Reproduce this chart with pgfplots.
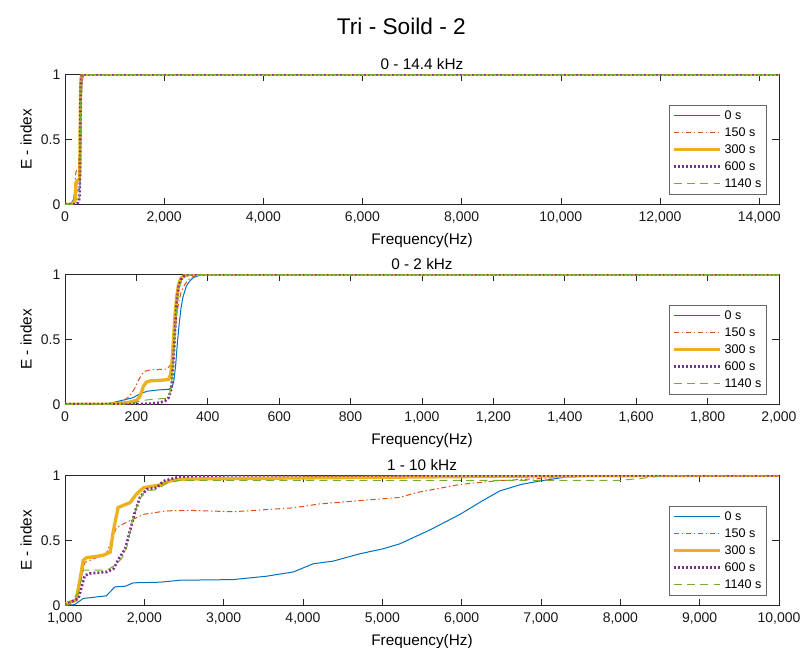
\documentclass[border=0pt]{standalone}
\usepackage{pgfplots}
\pgfplotsset{compat=1.18}
\usepackage{pgfplotstable}
\usepackage{fontspec}
\setmainfont{Liberation Sans}

\definecolor{mblue}{HTML}{0072BD}
\definecolor{morange}{HTML}{D95319}
\definecolor{myellow}{HTML}{EDB120}
\definecolor{mpurple}{HTML}{7E2F8E}
\definecolor{mgreen}{HTML}{77AC30}
\definecolor{mgray}{HTML}{262626}

% ---- 0 - 14.4 kHz / 0 - 2 kHz (same curves) ----
\pgfplotstableread{
f v
0 0
100 0
130 0.01
160 0.03
190 0.05
210 0.08
230 0.10
260 0.11
290 0.115
300 0.13
305 0.18
310 0.30
315 0.48
320 0.62
325 0.74
330 0.82
340 0.91
350 0.95
360 0.975
375 0.99
400 1
14400 1
}\lowA
\pgfplotstableread{
f v
0 0
130 0
160 0.02
180 0.06
195 0.12
205 0.18
215 0.23
225 0.255
240 0.265
285 0.27
295 0.30
300 0.38
305 0.50
310 0.62
318 0.78
325 0.86
335 0.92
350 0.97
365 0.99
380 1
14400 1
}\lowB
\pgfplotstableread{
f v
0 0
120 0
150 0.005
180 0.015
200 0.03
210 0.06
215 0.10
220 0.14
228 0.17
240 0.18
270 0.185
290 0.19
296 0.23
300 0.33
304 0.50
308 0.68
313 0.83
318 0.92
325 0.97
335 0.99
350 1
14400 1
}\lowC
\pgfplotstableread{
f v
0 0
200 0
240 0.005
265 0.012
280 0.025
290 0.05
298 0.12
303 0.30
308 0.55
313 0.78
318 0.90
325 0.96
335 0.99
350 1
14400 1
}\lowD
\pgfplotstableread{
f v
0 0
150 0
190 0.01
220 0.03
250 0.04
285 0.045
293 0.07
300 0.20
305 0.40
310 0.62
315 0.80
320 0.90
328 0.96
340 0.99
355 1
14400 1
}\lowE

% ---- 1 - 10 kHz ----
\pgfplotstableread{
f v
1000 0
1120 0.005
1230 0.053
1520 0.073
1630 0.142
1760 0.147
1860 0.173
2200 0.178
2450 0.193
3120 0.198
3540 0.224
3880 0.257
4130 0.32
4380 0.34
4720 0.397
5010 0.435
5220 0.473
5600 0.58
5980 0.70
6250 0.80
6480 0.88
6750 0.93
6990 0.957
7320 0.987
7800 0.995
8500 1
10000 1
}\hiA
\pgfplotstableread{
f v
1000 0
1060 0.005
1150 0.06
1200 0.20
1250 0.33
1520 0.397
1650 0.60
1780 0.64
1990 0.70
2280 0.727
2600 0.73
3120 0.72
3880 0.75
4210 0.78
4800 0.81
5220 0.83
5430 0.867
5980 0.93
6480 0.96
6990 0.975
7320 0.99
8000 1
10000 1
}\hiB
\pgfplotstableread{
f v
1000 0
1020 0.015
1140 0.04
1190 0.20
1230 0.346
1270 0.366
1480 0.384
1570 0.41
1610 0.575
1670 0.753
1820 0.79
1900 0.855
1990 0.905
2200 0.926
2320 0.956
2450 0.97
3000 0.975
5000 0.985
7000 0.995
9000 1
10000 1
}\hiC
\pgfplotstableread{
f v
1000 0
1020 0.01
1170 0.053
1250 0.23
1315 0.245
1525 0.257
1610 0.28
1690 0.37
1760 0.435
1820 0.575
1880 0.715
1945 0.83
2030 0.893
2160 0.905
2240 0.956
2450 0.99
3000 1
10000 1
}\hiD
\pgfplotstableread{
f v
1000 0
1050 0.01
1170 0.10
1230 0.27
1525 0.27
1610 0.30
1715 0.36
1780 0.45
1840 0.625
1925 0.80
2010 0.88
2160 0.89
2280 0.94
2450 0.962
8000 0.962
8240 0.975
8600 1
10000 1
}\hiE

\pgfplotsset{
  panel/.style={
    scale only axis, width=535.5pt, height=97.5pt,
    ymin=0, ymax=1, ytick={0,0.5,1},
    tick align=inside, major tick length=5pt,
    axis line style={mgray, line width=0.5pt},
    tick style={mgray, line width=0.5pt},
    every tick label/.append style={font=\fontsize{10.5}{12}\selectfont, text=black!90},
    xticklabel style={yshift=-2pt},
    /pgf/number format/assume math mode=true,
    /pgf/number format/1000 sep={,},
    scaled x ticks=false,
    xlabel={Frequency(Hz)}, ylabel={E - index},
    xlabel style={yshift=-1pt},
    label style={font=\fontsize{11.5}{13}\selectfont},
    title style={font=\fontsize{11.5}{13}\selectfont, yshift=-6pt},
    legend cell align=left,
    legend image code/.code={\draw[##1] (0pt,0.4pt) -- (35pt,0.4pt);},
    legend style={at={(1,0)}, anchor=south east, xshift=-9pt, yshift=7pt,
      draw=mgray!70, line width=0.5pt, fill=white,
      font=\fontsize{9.4}{11}\selectfont, row sep=0.6pt, inner sep=2pt},
  },
  s0/.style={color=mblue, draw=mblue, line width=0.75pt},
  s150/.style={color=morange, draw=morange, line width=0.75pt, dash pattern=on 4pt off 2pt on 1pt off 2pt},
  s300/.style={color=myellow, draw=myellow, line width=2.5pt},
  s600/.style={color=mpurple, draw=mpurple, line width=2pt, dash pattern=on 1.5pt off 1.5pt},
  s1140/.style={color=mgreen, draw=mgreen, line width=0.75pt, dash pattern=on 6pt off 4pt},
}

\begin{document}
\begin{tikzpicture}
\path[use as bounding box] (0,0) rectangle (601.5pt,486pt);

\node[font=\fontsize{17}{20}\selectfont] at (301pt,466.5pt) {Tri - Soild - 2};

\begin{axis}[panel, at={(48.75pt,332.8pt)}, anchor=south west,
  xmin=0, xmax=14400, xtick={0,2000,...,14000},
  title={0 - 14.4 kHz}]
\addplot[s0] table {\lowA}; \addlegendentry{0 s}
\addplot[s150] table {\lowB}; \addlegendentry{150 s}
\addplot[s300] table {\lowC}; \addlegendentry{300 s}
\addplot[s600] table {\lowD}; \addlegendentry{600 s}
\addplot[s1140] table {\lowE}; \addlegendentry{1140 s}
\end{axis}

\begin{axis}[panel, at={(48.75pt,182.8pt)}, anchor=south west,
  xmin=0, xmax=2000, xtick={0,200,...,2000},
  title={0 - 2 kHz}]
\addplot[s0] table {\lowA}; \addlegendentry{0 s}
\addplot[s150] table {\lowB}; \addlegendentry{150 s}
\addplot[s300] table {\lowC}; \addlegendentry{300 s}
\addplot[s600] table {\lowD}; \addlegendentry{600 s}
\addplot[s1140] table {\lowE}; \addlegendentry{1140 s}
\end{axis}

\begin{axis}[panel, at={(48.75pt,32pt)}, anchor=south west,
  xmin=1000, xmax=10000, xtick={1000,2000,...,10000},
  title={1 - 10 kHz}]
\addplot[s0] table {\hiA}; \addlegendentry{0 s}
\addplot[s150] table {\hiB}; \addlegendentry{150 s}
\addplot[s300] table {\hiC}; \addlegendentry{300 s}
\addplot[s600] table {\hiD}; \addlegendentry{600 s}
\addplot[s1140] table {\hiE}; \addlegendentry{1140 s}
\end{axis}
\end{tikzpicture}
\end{document}
